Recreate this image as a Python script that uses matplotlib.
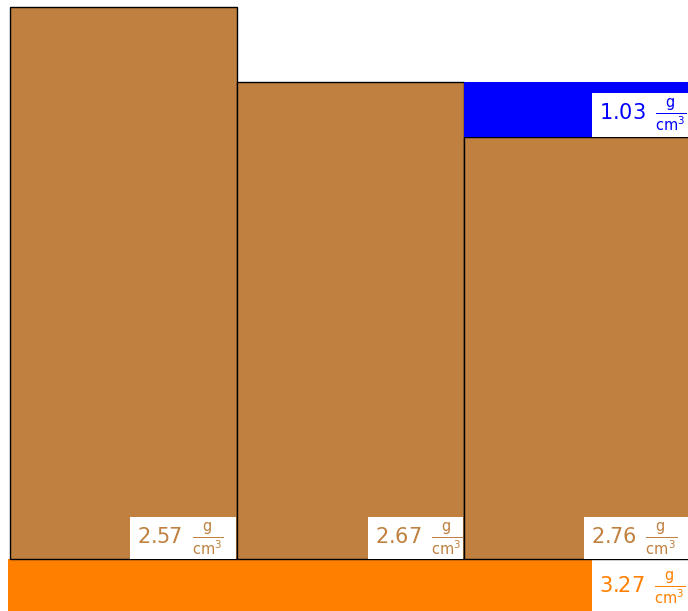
import matplotlib
matplotlib.use('Agg')
import matplotlib.pyplot as plt
from matplotlib.patches import Rectangle

plt.rcParams['mathtext.fontset'] = 'dejavusans'

# column data (width 1 each), heights above the common base
col_left = [0, 1, 2]
crust_height = [2.43, 2.10, 1.86]
crust_density = [2.57, 2.67, 2.76]
water_col = 2
water_depth = 0.24
water_density = 1.03
mantle_density = 3.27
mantle_depth = 0.3
mantle_right = 2.564

brown = '#bf8040'
orange = '#ff8000'
blue = '#0000ff'

# label boxes (data units, 227 px per unit)
box_widths = [0.471, 0.423, 0.471]
box_h = 0.181
wbox_h = 0.194
pad = 0.031

def label(v):
    return r'%.2f $\,\frac{\mathrm{g}}{\mathrm{cm}^3}$' % v

fig = plt.figure(figsize=(6.88, 6.11), dpi=100)
ax = fig.add_axes([0, 0, 1, 1])
ax.set_xlim(-0.044, 2.987)
ax.set_ylim(-0.229, 2.463)
ax.axis('off')

ax.add_patch(Rectangle((-0.01, -mantle_depth), mantle_right + 0.01, mantle_depth,
                       fc=orange, ec='none'))

for x, h in zip(col_left, crust_height):
    ax.add_patch(Rectangle((x, 0), 1, h, fc=brown, ec='black', lw=1))

wx = col_left[water_col]
wb = crust_height[water_col]
ax.add_patch(Rectangle((wx, wb), 1, water_depth, fc=blue, ec='none'))

fs = 15
for x, d, bw in zip(col_left, crust_density, box_widths):
    bl = x + 1 - bw
    ax.add_patch(Rectangle((bl, 0.002), bw - 0.003, box_h, fc='white', ec='none', zorder=3))
    ax.text(bl + pad, box_h / 2, label(d), ha='left', va='center',
            color=brown, fontsize=fs, zorder=4)

ax.add_patch(Rectangle((mantle_right, wb), 1, wbox_h, fc='white', ec='none', zorder=3))
ax.text(mantle_right + pad, wb + wbox_h / 2, label(water_density), ha='left', va='center',
        color=blue, fontsize=fs, zorder=4)

ax.text(mantle_right + pad, -0.128, label(mantle_density), ha='left', va='center',
        color=orange, fontsize=fs)

fig.savefig('out.png', dpi=100)
